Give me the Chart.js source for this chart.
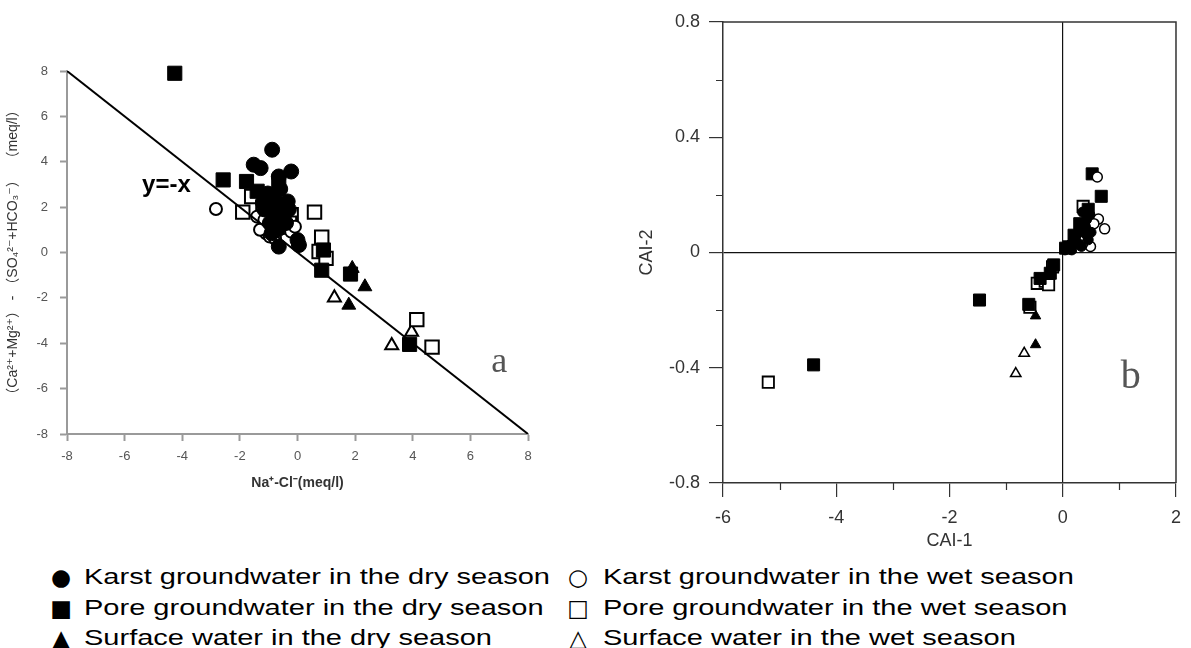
<!doctype html>
<html lang="en">
<head>
<meta charset="utf-8">
<title>Na+-Cl- scatter and CAI-1 / CAI-2</title>
<script src="https://cdn.jsdelivr.net/npm/chart.js@4.4.1/dist/chart.umd.min.js"></script>
<style>
  html, body { margin: 0; padding: 0; background: #fff; }
  body { width: 1191px; height: 648px; position: relative; overflow: hidden; }
  #boxA { position: absolute; left: 0; top: 0; width: 600px; height: 510px; }
  #boxB { position: absolute; left: 600px; top: 0; width: 591px; height: 560px; }
  .sym { position: absolute; font-family: "DejaVu Sans", sans-serif; font-size: 23px; line-height: 30px; width: 30px; text-align: center; color: #000; }
  .txt { position: absolute; font-family: "Liberation Sans", Arial, sans-serif; font-size: 22px; line-height: 30px; white-space: nowrap; color: #000; transform-origin: 0 50%; }
</style>
</head>
<body>
<div id="boxA"><canvas id="chartA" width="600" height="510"></canvas></div>
<div id="boxB"><canvas id="chartB" width="591" height="560"></canvas></div>
<div id="legend"></div>

<script>
// ---- legend / series names ----
const seriesNames = [
  'Karst groundwater in the dry season',
  'Karst groundwater in the wet season',
  'Pore groundwater in the dry season',
  'Pore groundwater in the wet season',
  'Surface water in the dry season',
  'Surface water in the wet season'
];
const legendSymbols = ['●', '○', '■', '□', '▲', '△'];

// ---- panel a : Na+-Cl- (x) vs (Ca+Mg)-(SO4+HCO3) (y), meq/l ----
const karstDryAX = [-0.88, -1.52, -1.28, -0.22, -0.65, -1.03, -0.78, -0.53, -0.78, -0.40, -0.65, 0.00, 0.05, -0.96, -1.15, -0.34, -0.90, -0.60, -0.45, -0.70, -1.20, -0.30];
const karstDryAY = [4.53, 3.87, 3.72, 3.57, 3.35, 2.60, 2.30, 2.00, 1.60, 1.30, 0.26, 0.55, 0.33, 1.30, 1.90, 2.25, 0.85, 2.80, 1.70, 1.00, 2.20, 1.90];
const karstWetAX = [-2.83, -1.40, -1.09, -0.96, -0.78, -0.53, -0.22, -0.09, -1.15, -1.30];
const karstWetAY = [1.92, 1.58, 0.85, 0.70, 0.62, 1.07, 0.92, 1.14, 1.44, 1.00];
const poreDryAX = [-4.26, -2.58, -1.77, -1.40, -0.90, -0.65, 0.90, 0.84, 1.84, 3.89, -1.10];
const poreDryAY = [7.90, 3.20, 3.13, 2.70, 2.00, 3.06, 0.11, -0.78, -0.95, -4.05, 2.30];
const poreWetAX = [-1.90, 0.59, 0.84, 0.75, 0.99, 4.14, 4.67, -0.22, -0.28, -1.59, -1.20];
const poreWetAY = [1.78, 1.78, 0.67, 0.04, -0.26, -2.96, -4.17, 1.66, 1.29, 2.47, 2.00];
const surfDryAX = [1.90, 2.34, 1.78];
const surfDryAY = [-0.70, -1.51, -2.32];
const surfWetAX = [1.28, 3.27, 3.96];
const surfWetAY = [-1.99, -4.10, -3.50];
const refLineX = [-8, 8];      // y = -x
const refLineY = [8, -8];
const ticksA = [-8, -6, -4, -2, 0, 2, 4, 6, 8];

// ---- panel b : CAI-1 (x) vs CAI-2 (y) ----
const karstDryBX = [0.04, 0.13, 0.19, 0.24, 0.30, 0.36, 0.42, 0.48, 0.39, 0.27, 0.16, 0.33, 0.45, 0.08, 0.22, 0.40, 0.35, 0.50];
const karstDryBY = [0.009, 0.027, 0.044, 0.061, 0.079, 0.096, 0.114, 0.131, 0.067, 0.032, 0.009, 0.021, 0.044, 0.020, 0.050, 0.090, 0.140, 0.070];
const karstWetBX = [0.61, 0.63, 0.74, 0.49, 0.55, 0.35, 0.28];
const karstWetBY = [0.262, 0.116, 0.082, 0.021, 0.100, 0.030, 0.050];
const poreDryBX = [-4.40, -1.47, -0.60, -0.40, -0.22, -0.16, 0.52, 0.68, 0.45, 0.30, 0.20, 0.05];
const poreDryBY = [-0.390, -0.165, -0.180, -0.090, -0.072, -0.043, 0.273, 0.195, 0.150, 0.100, 0.060, 0.015];
const poreWetBX = [-5.20, -0.58, -0.45, -0.31, -0.25, -0.18, 0.36, 0.12];
const poreWetBY = [-0.450, -0.190, -0.107, -0.100, -0.112, -0.050, 0.160, 0.020];
const surfDryBX = [-0.48, -0.48];
const surfDryBY = [-0.22, -0.32];
const surfWetBX = [-0.68, -0.83];
const surfWetBY = [-0.35, -0.42];
const ticksBX = [-6, -5, -4, -3, -2, -1, 0, 1, 2];
const labeledBX = [-6, -4, -2, 0, 2];
const ticksBY = [-0.8, -0.6, -0.4, -0.2, 0, 0.2, 0.4, 0.6, 0.8];
const labeledBY = [-0.8, -0.4, 0, 0.4, 0.8];

function pts(xs, ys) {
  return xs.map(function (x, i) { return { x: x, y: ys[i] }; });
}

function series(name, xs, ys, style, filled, r, bw) {
  return {
    label: name,
    data: pts(xs, ys),
    pointStyle: style,
    pointRadius: r,
    pointHoverRadius: r,
    backgroundColor: filled ? '#000' : '#fff',
    borderColor: '#000',
    borderWidth: bw,
    showLine: false,
    clip: false
  };
}

function isIn(list, v) {
  return list.some(function (t) { return Math.abs(t - v) < 1e-9; });
}

Chart.defaults.font.family = '"Liberation Sans", Arial, sans-serif';
Chart.defaults.animation = false;

// ---------------- panel a ----------------
const textA = {
  id: 'textA',
  afterDatasetsDraw: function (chart) {
    const c = chart.ctx, sx = chart.scales.x, sy = chart.scales.y;
    c.save();
    c.textAlign = 'center';
    c.textBaseline = 'middle';
    c.fillStyle = '#000';
    c.font = 'bold 24px "Liberation Sans", Arial, sans-serif';
    c.fillText('y=-x', sx.getPixelForValue(-4.55), sy.getPixelForValue(2.95));
    c.fillStyle = '#555';
    c.font = '36px "Liberation Serif", serif';
    c.fillText('a', sx.getPixelForValue(7.0), sy.getPixelForValue(-4.85));
    c.restore();
  }
};

const axisA = {
  type: 'linear', min: -8, max: 8,
  afterBuildTicks: function (s) { s.ticks = ticksA.map(function (v) { return { value: v }; }); },
  border: { color: '#9a9a9a', width: 2 },
  grid: { drawOnChartArea: false, drawTicks: true, tickLength: 7, tickColor: '#9a9a9a', tickWidth: 2 },
  ticks: { color: '#555', font: { size: 13 } }
};

new Chart(document.getElementById('chartA'), {
  type: 'scatter',
  data: {
    datasets: [
      series(seriesNames[0], karstDryAX, karstDryAY, 'circle', true, 7.5, 1),
      series(seriesNames[1], karstWetAX, karstWetAY, 'circle', false, 6, 2),
      series(seriesNames[2], poreDryAX, poreDryAY, 'rect', true, 10, 1),
      series(seriesNames[3], poreWetAX, poreWetAY, 'rect', false, 9.5, 2),
      series(seriesNames[4], surfDryAX, surfDryAY, 'triangle', true, 8, 1),
      series(seriesNames[5], surfWetAX, surfWetAY, 'triangle', false, 7.5, 2),
      {
        type: 'line', label: 'y=-x', data: pts(refLineX, refLineY),
        borderColor: '#000', borderWidth: 2, pointRadius: 0, showLine: true, order: -1
      }
    ]
  },
  options: {
    responsive: false,
    devicePixelRatio: 1,
    layout: { padding: { top: 71, right: 72, bottom: 0, left: 0 } },
    plugins: { legend: { display: false }, tooltip: { enabled: false } },
    scales: {
      x: Object.assign({}, axisA, {
        position: 'bottom',
        afterFit: function (s) { s.height = 76; },
        ticks: { color: '#555', font: { size: 13 }, padding: 8 },
        title: {
          display: true, text: 'Na⁺-Cl⁻(meq/l)', color: '#333',
          font: { size: 14, weight: 'bold' }, padding: { top: 0, bottom: 18 }
        }
      }),
      y: Object.assign({}, axisA, {
        position: 'left',
        afterFit: function (s) { s.width = 67; },
        ticks: { color: '#555', font: { size: 13 }, padding: 12 },
        title: {
          display: true, text: '（Ca²⁺+Mg²⁺） - （SO₄²⁻+HCO₃⁻）  （meq/l）', color: '#333',
          font: { size: 14, family: '"Liberation Sans", "DejaVu Sans", "Noto Sans CJK SC", sans-serif' },
          padding: { top: 5, bottom: 0 }
        }
      })
    }
  },
  plugins: [textA]
});

// ---------------- panel b ----------------
const frameB = {
  id: 'frameB',
  afterDraw: function (chart) {
    const c = chart.ctx, a = chart.chartArea, sx = chart.scales.x, sy = chart.scales.y;
    c.save();
    c.strokeStyle = '#333';
    c.lineWidth = 1.5;
    c.beginPath();
    c.moveTo(a.left, a.top); c.lineTo(a.right, a.top); c.lineTo(a.right, a.bottom);
    c.stroke();
    // short minor ticks
    c.lineWidth = 1.2;
    c.beginPath();
    ticksBX.forEach(function (v) {
      if (isIn(labeledBX, v)) return;
      const px = Math.round(sx.getPixelForValue(v)) + 0.5;
      c.moveTo(px, a.bottom); c.lineTo(px, a.bottom + 7);
    });
    ticksBY.forEach(function (v) {
      if (isIn(labeledBY, v)) return;
      const py = Math.round(sy.getPixelForValue(v)) + 0.5;
      c.moveTo(a.left - 7, py); c.lineTo(a.left, py);
    });
    c.stroke();
    c.fillStyle = '#555';
    c.font = '40px "Liberation Serif", serif';
    c.textAlign = 'center';
    c.textBaseline = 'middle';
    c.fillText('b', sx.getPixelForValue(1.2), sy.getPixelForValue(-0.435));
    c.restore();
  }
};

function axisB(tickList, labeled) {
  return {
    type: 'linear', min: tickList[0], max: tickList[tickList.length - 1],
    afterBuildTicks: function (s) { s.ticks = tickList.map(function (v) { return { value: v }; }); },
    border: { color: '#333', width: 1.5 },
    grid: {
      drawOnChartArea: true, drawTicks: true, tickLength: 14, lineWidth: 1.2, tickWidth: 1.2,
      color: function (ctx) { return ctx.tick && Math.abs(ctx.tick.value) < 1e-9 ? '#111' : 'rgba(0,0,0,0)'; },
      tickColor: function (ctx) { return ctx.tick && isIn(labeled, ctx.tick.value) ? '#333' : 'rgba(0,0,0,0)'; }
    },
    ticks: {
      color: '#333', font: { size: 18 },
      callback: function (v) { return isIn(labeled, v) ? String(Math.round(v * 10) / 10) : ''; }
    }
  };
}

const bx = axisB(ticksBX, labeledBX);
const by = axisB(ticksBY, labeledBY);

new Chart(document.getElementById('chartB'), {
  type: 'scatter',
  data: {
    datasets: [
      series(seriesNames[0], karstDryBX, karstDryBY, 'circle', true, 5, 1),
      series(seriesNames[1], karstWetBX, karstWetBY, 'circle', false, 5, 1.5),
      series(seriesNames[2], poreDryBX, poreDryBY, 'rect', true, 8.5, 1),
      series(seriesNames[3], poreWetBX, poreWetBY, 'rect', false, 8, 1.8),
      series(seriesNames[4], surfDryBX, surfDryBY, 'triangle', true, 6, 1),
      series(seriesNames[5], surfWetBX, surfWetBY, 'triangle', false, 6, 1.5)
    ]
  },
  options: {
    responsive: false,
    devicePixelRatio: 1,
    layout: { padding: { top: 22, right: 8, bottom: 0, left: 0 } },
    plugins: { legend: { display: false }, tooltip: { enabled: false } },
    scales: {
      x: Object.assign(bx, {
        position: 'bottom',
        afterFit: function (s) { s.height = 77; },
        ticks: Object.assign(bx.ticks, { padding: 10, maxRotation: 0, autoSkip: false }),
        title: { display: true, text: 'CAI-1', color: '#333', font: { size: 18 }, padding: { top: 0, bottom: 8 } }
      }),
      y: Object.assign(by, {
        position: 'left',
        afterFit: function (s) { s.width = 123; },
        ticks: Object.assign(by.ticks, { padding: 9, autoSkip: false }),
        title: { display: true, text: 'CAI-2', color: '#333', font: { size: 18 }, padding: { top: 36, bottom: 0 } }
      })
    }
  },
  plugins: [frameB]
});

// ---------------- shared legend (HTML text) ----------------
const legend = document.getElementById('legend');
const rowTop = [562, 593, 623];
const colSym = [46, 563];
const colTxt = [84, 603];
const spans = [];
seriesNames.forEach(function (name, i) {
  const row = Math.floor(i / 2), col = i % 2;
  const s = document.createElement('div');
  s.className = 'sym';
  s.textContent = legendSymbols[i];
  s.style.left = colSym[col] + 'px';
  s.style.top = rowTop[row] + 'px';
  legend.appendChild(s);
  const t = document.createElement('div');
  t.className = 'txt';
  t.textContent = name;
  t.style.left = colTxt[col] + 'px';
  t.style.top = rowTop[row] + 'px';
  legend.appendChild(t);
  spans.push(t);
});
// stretch the text to the width of the first legend line in the figure
const k = 466 / spans[0].getBoundingClientRect().width;
spans.forEach(function (t) { t.style.transform = 'scaleX(' + k + ')'; });
</script>
</body>
</html>
